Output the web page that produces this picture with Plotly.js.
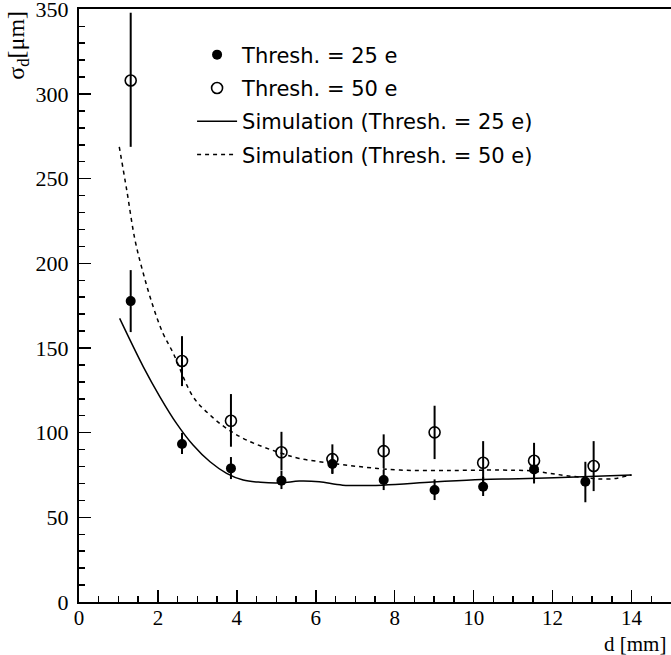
<!DOCTYPE html>
<html><head><meta charset="utf-8">
<script src="https://cdn.plot.ly/plotly-3.0.1.min.js"></script>
<style>html,body{margin:0;padding:0;background:#fff}</style>
</head><body>
<div id="chart" style="width:671px;height:655px"></div>
<script>
// measured points, threshold 25 e
const x25 = [1.31, 2.61, 3.85, 5.13, 6.42, 7.72, 9.01, 10.24, 11.53, 12.83];
const y25 = [177.7, 93.3, 78.9, 71.6, 81.5, 72.0, 66.1, 68.1, 78.3, 71.0];
const e25up = [18.3, 6.6, 6.7, 6.0, 5.5, 6.0, 6.3, 5.7, 7.0, 11.8];
const e25dn = [18.3, 5.9, 6.3, 4.9, 5.9, 5.9, 5.9, 5.5, 8.3, 12.1];
// measured points, threshold 50 e
const x50 = [1.31, 2.61, 3.85, 5.13, 6.42, 7.72, 9.01, 10.24, 11.53, 13.04];
const y50 = [308.0, 142.3, 107.0, 88.4, 84.4, 89.1, 100.2, 82.2, 83.4, 80.3];
const e50up = [40.0, 14.7, 15.8, 12.1, 8.7, 9.9, 15.7, 12.8, 10.6, 14.7];
const e50dn = [39.2, 14.8, 15.3, 10.5, 8.4, 10.1, 15.8, 12.2, 10.4, 14.8];
// simulation curves
const xs25 = [1.03, 1.63, 2.05, 2.47, 2.89, 3.32, 3.74, 4.16, 4.6, 5.13, 5.58, 6.09, 6.68, 7.69, 8.95, 10.2, 11.15, 12.75, 14.0];
const ys25 = [167.5, 138.9, 121.2, 105.5, 92.7, 82.8, 76.0, 72.0, 70.7, 70.4, 71.4, 71.0, 69.0, 69.0, 70.8, 72.4, 72.8, 74.0, 75.0];
const xs50 = [1.02, 1.21, 1.42, 1.63, 1.88, 2.13, 2.39, 2.89, 3.32, 3.74, 4.25, 5.13, 5.58, 6.42, 7.28, 8.13, 9.39, 10.66, 11.42, 11.92, 12.35, 12.85, 13.19, 13.61, 13.9, 14.0];
const ys50 = [268.8, 243.2, 213.7, 194.0, 174.3, 158.6, 146.8, 121.2, 110.4, 102.5, 95.6, 87.8, 84.8, 81.9, 79.5, 77.9, 77.7, 77.9, 77.5, 76.0, 74.6, 73.4, 72.6, 73.0, 74.6, 75.0];

const names = ['Thresh. = 25 e', 'Thresh. = 50 e', 'Simulation (Thresh. = 25 e)', 'Simulation (Thresh. = 50 e)'];

const traces = [
  {x: xs25, y: ys25, mode: 'lines', name: names[2], legendrank: 3, legendgroup: 'c',
   line: {color: '#000', width: 1.5, shape: 'spline', smoothing: 1}},
  {x: xs50, y: ys50, mode: 'lines', name: names[3], legendrank: 4, legendgroup: 'd',
   line: {color: '#000', width: 1.5, dash: '4px,4px', shape: 'spline', smoothing: 1}},
  {x: x50, y: y50, mode: 'markers', name: names[1], legendrank: 2, legendgroup: 'b',
   marker: {symbol: 'circle-open', size: 11, color: '#000', line: {width: 1.6, color: '#000'}},
   error_y: {type: 'data', symmetric: false, array: e50up, arrayminus: e50dn, width: 0, thickness: 2, color: '#000'}},
  {x: x25, y: y25, mode: 'markers', name: names[0], legendrank: 1, legendgroup: 'a',
   marker: {symbol: 'circle', size: 10, color: '#000'},
   error_y: {type: 'data', symmetric: false, array: e25up, arrayminus: e25dn, width: 0, thickness: 2, color: '#000'}}
];

const serif = 'Liberation Serif, Times New Roman, serif';
const layout = {
  width: 671, height: 655,
  margin: {l: 79, r: 0, t: 9, b: 53},
  paper_bgcolor: '#fff', plot_bgcolor: '#fff',
  showlegend: true,
  legend: {x: 0.191, y: 0.957, xanchor: 'left', yanchor: 'top', bgcolor: 'rgba(0,0,0,0)',
           font: {family: 'DejaVu Sans, sans-serif', size: 21, color: '#000'},
           itemwidth: 40, tracegroupgap: 3, traceorder: 'grouped'},
  xaxis: {range: [0, 15], showgrid: false, zeroline: false,
          showline: true, linecolor: '#000', linewidth: 2, mirror: true,
          ticks: 'inside', ticklen: 12, tickwidth: 1.5, tickcolor: '#000',
          tick0: 0, dtick: 2, ticklabelstandoff: -4,
          minor: {dtick: 0.5, ticks: 'inside', ticklen: 6, tickwidth: 1.5, tickcolor: '#000', showgrid: false},
          tickfont: {family: serif, size: 21, color: '#000'}},
  yaxis: {range: [0, 350.2], showgrid: false, zeroline: false,
          showline: true, linecolor: '#000', linewidth: 2, mirror: true,
          ticks: 'inside', ticklen: 12, tickwidth: 1.5, tickcolor: '#000',
          tick0: 0, dtick: 50, ticklabelstandoff: 4, ticklabeloverflow: 'allow',
          minor: {dtick: 10, ticks: 'inside', ticklen: 6, tickwidth: 1.5, tickcolor: '#000', showgrid: false},
          tickfont: {family: serif, size: 22, color: '#000'}},
  annotations: [
    {text: 'd [mm]', xref: 'paper', yref: 'paper', x: 0.995, y: -0.047, xanchor: 'right', yanchor: 'top',
     showarrow: false, font: {family: serif, size: 21, color: '#000'}},
    {text: 'σ<sub>d</sub>[μm]', xref: 'paper', yref: 'paper', x: -0.133, y: 1.0, xanchor: 'left', yanchor: 'top',
     textangle: -90, showarrow: false, font: {family: serif, size: 24, color: '#000'}}
  ]
};

Plotly.newPlot('chart', traces, layout, {displayModeBar: false, staticPlot: true});
</script>
</body></html>
